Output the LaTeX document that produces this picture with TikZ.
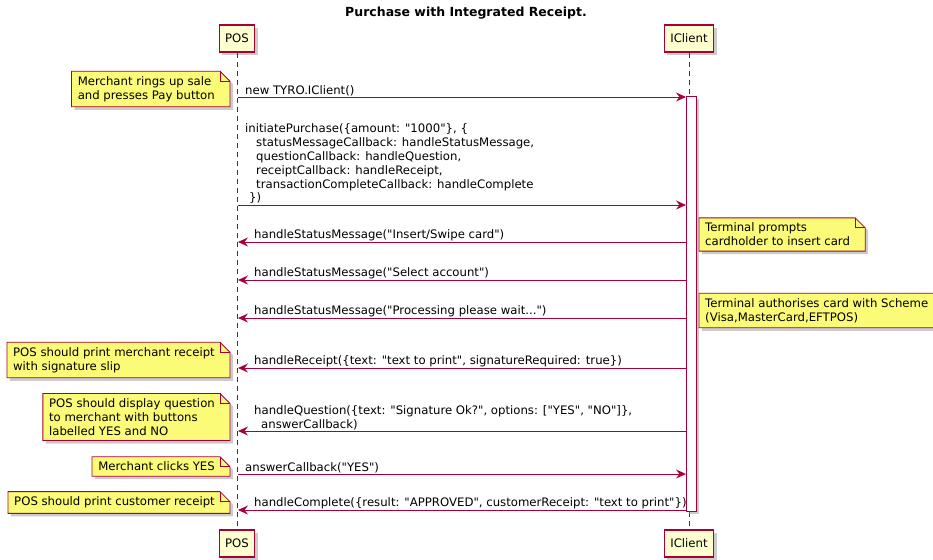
\documentclass[tikz,border=0pt]{standalone}
\usepackage{fontspec}
\setmainfont{DejaVu Sans}[Ligatures=TeXOff]
\usetikzlibrary{arrows.meta,shadows,backgrounds}
\definecolor{umlred}{RGB}{168,0,54}
\definecolor{partfill}{RGB}{254,254,206}
\definecolor{notefill}{RGB}{251,251,119}
\newcommand{\umlfont}{\fontsize{11.7}{13.8}\selectfont}
\tikzset{
  part/.style={rectangle, draw=umlred, line width=1.1pt, fill=partfill, minimum height=27pt, inner xsep=6pt, font=\umlfont,
    drop shadow={shadow xshift=3pt, shadow yshift=-3pt, fill=black!40}},
  life/.style={umlred, line width=0.8pt, dash pattern=on 5pt off 4pt},
  actbar/.style={rectangle, draw=umlred, line width=0.8pt, fill=white, minimum width=10pt, inner sep=0pt,
    drop shadow={shadow xshift=3pt, shadow yshift=-3pt, fill=black!40}},
  msg/.style={umlred, line width=0.9pt, -{Stealth[length=10pt, width=9pt, inset=3.5pt]}},
  lbl/.style={anchor=south west, inner sep=0pt, yshift=1pt, align=left, font=\umlfont},
  notetext/.style={inner xsep=6pt, inner ysep=5pt, align=left, font=\umlfont},
  notebox/.style={draw=umlred, line width=0.8pt, fill=notefill}
}
% note with folded corner, drawn behind its text
\newcommand{\dogear}[1]{%
  \begin{scope}[on background layer]
  \draw[notebox, drop shadow={shadow xshift=3pt, shadow yshift=-3pt, fill=black!40}]
    (#1.south west) -- (#1.north west) -- ([xshift=-1pt]#1.north east)
    -- ([xshift=9pt,yshift=-10pt]#1.north east) -- ([xshift=9pt]#1.south east) -- cycle;
  \draw[notebox, fill=none] ([xshift=-1pt]#1.north east) |- ([xshift=9pt,yshift=-10pt]#1.north east);
  \end{scope}}

\begin{document}
\begin{tikzpicture}[x=1pt, y=-1pt]
\useasboundingbox (0,0) rectangle (933,559);

\node (title) at (466,13) {\fontsize{12.5}{14}\selectfont\bfseries Purchase with Integrated Receipt.};

% participants
\node (posT) [part] at (237,38.5) {POS};
\node (iclT) [part] at (689,38.5) {IClient};
\node (posB) [part] at (237,543.5) {POS};
\node (iclB) [part] at (689,543.5) {IClient};
\draw[life] (posT) -- (posB);
\draw[life] (iclT) -- (iclB);
\node (act) [actbar, minimum height=415pt] at (691,303.5) {};

% message ends on the lifelines
\foreach \n/\y in {1/97, 2/205, 3/242, 4/280, 5/318, 6/368, 7/431, 8/474, 9/510}{
  \coordinate (p\n) at (238,\y);
  \coordinate (c\n) at (686,\y);
}

% notes
\node (n1) [notetext, anchor=east] at (221,89) {Merchant rings up sale\\and presses Pay button};
\dogear{n1}
\node (n2) [notetext, anchor=west] at (699,234.5) {Terminal prompts\\cardholder to insert card};
\dogear{n2}
\node (n3) [notetext, anchor=west] at (699,310.5) {Terminal authorises card with Scheme\\(Visa,MasterCard,EFTPOS)};
\dogear{n3}
\node (n4) [notetext, anchor=east] at (221,360) {POS should print merchant receipt\\with signature slip};
\dogear{n4}
\node (n5) [notetext, anchor=east] at (221,417) {POS should display question\\to merchant with buttons\\labelled YES and NO};
\dogear{n5}
\node (n6) [notetext, anchor=east] at (221,466.5) {Merchant clicks YES};
\dogear{n6}
\node (n7) [notetext, anchor=east] at (221,502.5) {POS should print customer receipt};
\dogear{n7}

% messages
\draw[msg] (p1) -- (c1);
\node (m1) [lbl] at ([xshift=7pt]p1) {new TYRO.IClient()};
\draw[msg] (p2) -- (c2);
\node (m2) [lbl] at ([xshift=7pt]p2) {initiatePurchase(\{amount: "1000"\}, \{\\
\hspace*{11pt}statusMessageCallback: handleStatusMessage,\\
\hspace*{11pt}questionCallback: handleQuestion,\\
\hspace*{11pt}receiptCallback: handleReceipt,\\
\hspace*{11pt}transactionCompleteCallback: handleComplete\\
\hspace*{4pt}\})};
\draw[msg] (c3) -- (p3);
\node (m3) [lbl] at ([xshift=16pt]p3) {handleStatusMessage("Insert/Swipe card")};
\draw[msg] (c4) -- (p4);
\node (m4) [lbl] at ([xshift=16pt]p4) {handleStatusMessage("Select account")};
\draw[msg] (c5) -- (p5);
\node (m5) [lbl] at ([xshift=16pt]p5) {handleStatusMessage("Processing please wait...")};
\draw[msg] (c6) -- (p6);
\node (m6) [lbl] at ([xshift=16pt]p6) {handleReceipt(\{text: "text to print", signatureRequired: true\})};
\draw[msg] (c7) -- (p7);
\node (m7) [lbl] at ([xshift=16pt]p7) {handleQuestion(\{text: "Signature Ok?", options: ["YES", "NO"]\},\\
\hspace*{7pt}answerCallback)};
\draw[msg] (p8) -- (c8);
\node (m8) [lbl] at ([xshift=7pt]p8) {answerCallback("YES")};
\draw[msg] (c9) -- (p9);
\node (m9) [lbl] at ([xshift=16pt]p9) {handleComplete(\{result: "APPROVED", customerReceipt: "text to print"\})};
\end{tikzpicture}
\end{document}
